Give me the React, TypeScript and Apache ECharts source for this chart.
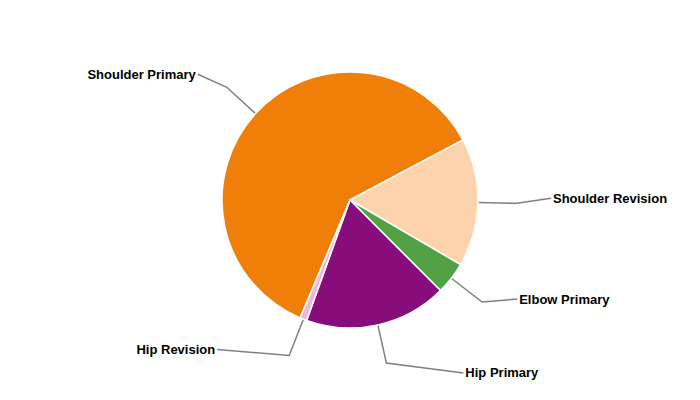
import React, { useEffect, useRef } from "react";
import * as echarts from "echarts";

const categories = ["Shoulder Primary", "Shoulder Revision", "Elbow Primary", "Hip Primary", "Hip Revision"];
const values = [60.9, 16.2, 4.1, 18.0, 0.86];
const colors = ["#F07F09", "#FCD3AD", "#52A145", "#870E7A", "#F2B3DF"];

// final connector segment offsets (layout only): [dx, dy]
const connectorEnds = [
  [-29, -13],
  [34, -5],
  [35, -3],
  [77, 10],
  [-72, -6],
];

export default function App() {
  const ref = useRef<HTMLDivElement>(null);
  useEffect(() => {
    if (!ref.current) return;
    const chart = echarts.init(ref.current, null, { renderer: "svg" });
    chart.setOption({
      animation: false,
      backgroundColor: "#ffffff",
      series: [
        {
          type: "pie",
          center: [350, 200],
          radius: 128,
          startAngle: 247.1,
          clockwise: true,
          avoidLabelOverlap: false,
          itemStyle: { borderColor: "#ffffff", borderWidth: 1.5 },
          label: {
            show: true,
            formatter: "{b}",
            fontFamily: "Liberation Sans, Arial, sans-serif",
            fontSize: 13,
            fontWeight: "bold",
            color: "#000000",
          },
          labelLine: {
            show: true,
            length: 39,
            length2: 30,
            smooth: false,
            lineStyle: { color: "#808080", width: 1.5 },
          },
          labelLayout: (params: any) => {
            const pts = params.labelLinePoints;
            if (!pts) return {};
            const i = params.dataIndex;
            const [dx, dy] = connectorEnds[i];
            const p0 = [pts[0][0], pts[0][1]];
            const p1 = [pts[1][0], pts[1][1]];
            const p2 = [p1[0] + dx, p1[1] + dy];
            const right = dx > 0;
            return {
              x: p2[0] + (right ? 2 : -2),
              y: p2[1],
              align: right ? "left" : "right",
              verticalAlign: "middle",
              labelLinePoints: [p0, p1, p2],
            };
          },
          emphasis: { disabled: true },
          data: categories.map((name, i) => ({
            name,
            value: values[i],
            itemStyle: { color: colors[i] },
          })),
        },
      ],
    });
    return () => chart.dispose();
  }, []);
  return (
    <div
      ref={ref}
      style={{ position: "fixed", left: 0, top: 0, width: 700, height: 400 }}
    />
  );
}
